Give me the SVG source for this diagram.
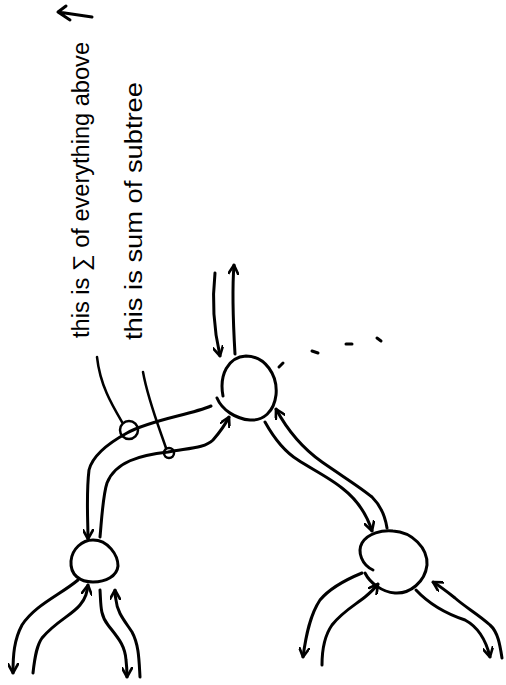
<svg xmlns="http://www.w3.org/2000/svg" width="506" height="685" viewBox="0 0 506 685">
<style>
.ink{fill:none;stroke:#000;stroke-width:3;stroke-linecap:round;stroke-linejoin:round}
.thin{fill:none;stroke:#000;stroke-width:2.5;stroke-linecap:round;stroke-linejoin:round}
.lbl{font-family:"Liberation Sans",Arial,sans-serif;font-size:23px;fill:#000}
</style>
<defs>
<marker id="ah" viewBox="0 0 10 10" refX="9" refY="5" markerWidth="11" markerHeight="11" markerUnits="userSpaceOnUse" orient="auto">
<path d="M 0,0 L 9,5 L 0,10" fill="none" stroke="#000" stroke-width="2.4" stroke-linecap="round" stroke-linejoin="round"/>
</marker>
</defs>
<rect width="506" height="685" fill="#fff"/>
<g id="labels">
<text class="lbl" transform="translate(89,338) rotate(-90)" textLength="296" lengthAdjust="spacingAndGlyphs">this is ∑ of everything above</text>
<path class="ink" d="M 92,17 L 58,12 M 70,20 L 58,12 L 66,6"/>
<text class="lbl" transform="translate(142,340) rotate(-90)" textLength="258" lengthAdjust="spacingAndGlyphs">this is sum of subtree</text>
</g>
<g id="node-root">
<path class="ink" d="M 223,396 C 219,375 228,357 246,356 C 265,356 278,375 276,395 C 274,412 263,421 250,420 C 236,419 222,410 217,398"/>
</g>
<g id="node-left">
<path class="ink" d="M 93,540 C 108,540 118,555 118,566 C 117,576 106,582 93,582 C 80,582 70,575 71,561 C 72,549 82,540 93,540 Z"/>
</g>
<g id="node-right">
<path class="ink" d="M 373,570 C 362,565 357,552 362,543 C 368,533 382,530 393,531 C 412,532 428,548 427,565 C 425,582 410,594 395,593 C 382,592 370,583 365,573"/>
</g>
<g id="connectors">
<path class="ink" marker-end="url(#ah)" d="M 215,273 C 212,300 214,330 220,356"/>
<path class="ink" marker-end="url(#ah)" d="M 235,354 C 233,320 232,290 234,265"/>
<path class="ink" d="M 279,367 L 283,363 M 312,351 L 318,353 M 346,344 L 352,344 M 377,338 L 381,341"/>
<path class="ink" marker-end="url(#ah)" d="M 211,406 C 190,415 150,420 127,433 C 105,445 92,458 89,470 C 86,495 88,520 88,539"/>
<path class="ink" marker-end="url(#ah)" d="M 100,537 C 102,515 103,495 107,483 C 115,462 140,455 168,452 C 190,448 205,448 213,440 C 220,432 225,425 229,417"/>
<path class="ink" marker-end="url(#ah)" d="M 265,422 C 275,440 285,452 298,460 C 310,468 330,478 342,488 C 355,498 366,512 372,531"/>
<path class="ink" marker-end="url(#ah)" d="M 387,528 C 385,515 380,505 372,497 C 360,487 345,478 322,462 C 305,450 290,435 276,409"/>
<path class="ink" marker-end="url(#ah)" d="M 78,580 C 60,595 35,605 22,625 C 14,640 13,655 13,673"/>
<path class="ink" marker-end="url(#ah)" d="M 33,673 C 35,655 37,645 42,638 C 55,622 72,615 80,605 C 86,598 87,592 88,585"/>
<path class="ink" marker-end="url(#ah)" d="M 100,590 C 101,605 100,615 108,625 C 118,638 125,645 126,660 C 127,668 127,673 127,677"/>
<path class="ink" marker-end="url(#ah)" d="M 140,677 C 139,660 139,645 132,632 C 124,620 117,612 116,600 C 115,596 115,594 115,590"/>
<path class="ink" marker-end="url(#ah)" d="M 362,573 C 345,580 330,588 320,600 C 310,615 306,635 303,657"/>
<path class="ink" marker-end="url(#ah)" d="M 322,665 C 322,650 325,635 332,625 C 342,612 355,605 365,597 C 371,592 375,588 378,584"/>
<path class="ink" marker-end="url(#ah)" d="M 416,590 C 430,605 450,615 465,620 C 478,627 486,640 490,657"/>
<path class="ink" marker-end="url(#ah)" d="M 502,658 C 500,645 498,632 490,625 C 478,614 465,607 455,598 C 445,590 438,585 433,582"/>
<path class="thin" d="M 97,357 C 100,385 112,405 122,422"/>
<circle class="thin" cx="129" cy="430" r="9"/>
<path class="thin" d="M 143,372 C 148,400 160,430 166,448"/>
<circle class="thin" cx="169" cy="453" r="5"/>
</g>
</svg>
